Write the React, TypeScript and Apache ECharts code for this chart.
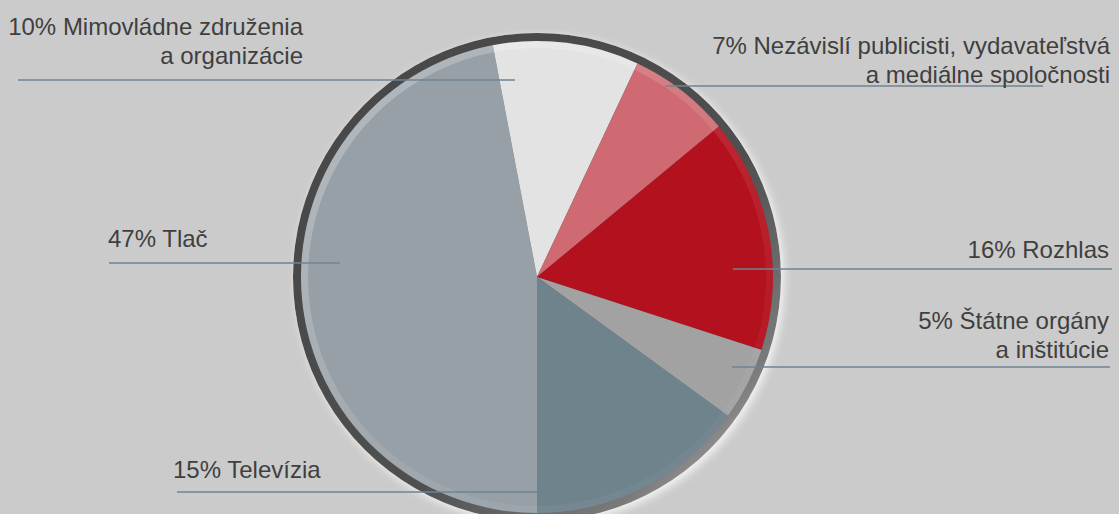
import React, { useEffect, useRef } from "react";
import * as echarts from "echarts";

// Data
const categories = [
  "Tlač",
  "Mimovládne združenia\na organizácie",
  "Nezávislí publicisti, vydavateľstvá\na mediálne spoločnosti",
  "Rozhlas",
  "Štátne orgány\na inštitúcie",
  "Televízia",
];
const values = [47, 10, 7, 16, 5, 15];
const sliceColors = ["#97a0a7", "#e3e3e3", "#cf6a72", "#b3111d", "#a2a2a2", "#6f838d"];

// Label placement (layout only)
const labelPlacement = [
  { x: 108, y: 252.5, align: "left", lx1: 340, lx2: 109, ly: 263 },
  { x: 303, y: 69.5, align: "right", lx1: 515, lx2: 18, ly: 80 },
  { x: 1110, y: 88.5, align: "right", lx1: 665, lx2: 1043, ly: 86 },
  { x: 1109, y: 263.5, align: "right", lx1: 733, lx2: 1112, ly: 269 },
  { x: 1109, y: 363.5, align: "right", lx1: 732, lx2: 1110, ly: 367 },
  { x: 173, y: 483.5, align: "left", lx1: 537, lx2: 177, ly: 492 },
];

const CENTER = [537, 277];

export default function App() {
  const ref = useRef<HTMLDivElement>(null);
  useEffect(() => {
    if (!ref.current) return;
    const chart = echarts.init(ref.current, undefined, { renderer: "svg" });
    const data = categories.map((name, i) => ({
      name,
      value: values[i],
      itemStyle: { color: sliceColors[i] },
    }));
    const labelData = categories.map((name, i) => ({
      name,
      value: values[i],
      itemStyle: { color: "rgba(0,0,0,0)" },
    }));
    chart.setOption({
      animation: false,
      backgroundColor: "#cbcbcb",
      series: [
        {
          type: "pie",
          z: 1,
          silent: true,
          center: CENTER,
          radius: [0, 244],
          label: { show: false },
          labelLine: { show: false },
          data: [
            {
              value: 1,
              itemStyle: {
                color: new echarts.graphic.LinearGradient(0, 0, 1, 1, [
                  { offset: 0, color: "#454545" },
                  { offset: 0.6, color: "#505050" },
                  { offset: 0.82, color: "#7a7a7a" },
                  { offset: 1, color: "#d6d6d6" },
                ]),
                shadowColor: "rgba(255,255,255,0.8)",
                shadowBlur: 8,
                shadowOffsetX: 3,
                shadowOffsetY: 3,
              },
            },
          ],
        },
        {
          type: "pie",
          z: 2,
          silent: true,
          center: CENTER,
          radius: [0, 236],
          startAngle: -90,
          clockwise: true,
          data,
          itemStyle: { borderWidth: 0 },
          label: { show: false },
          labelLine: { show: false },
        },
        {
          type: "pie",
          z: 3,
          silent: true,
          center: CENTER,
          radius: [229, 236],
          label: { show: false },
          labelLine: { show: false },
          data: [
            {
              value: 1,
              itemStyle: {
                color: new echarts.graphic.LinearGradient(0, 0, 1, 1, [
                  { offset: 0, color: "rgba(255,255,255,0.3)" },
                  { offset: 0.5, color: "rgba(255,255,255,0.1)" },
                  { offset: 1, color: "rgba(255,255,255,0)" },
                ]),
              },
            },
          ],
        },
        {
          type: "pie",
          z: 5,
          silent: true,
          center: CENTER,
          radius: [0, 236],
          startAngle: -90,
          clockwise: true,
          avoidLabelOverlap: false,
          data: labelData,
          label: {
            show: true,
            position: "outside",
            formatter: (p: any) => `${p.value}% ${p.name}`,
            color: "#3f3f3f",
            fontFamily: "'Liberation Sans', Arial, Helvetica, sans-serif",
            fontSize: 24,
            lineHeight: 29,
          },
          labelLine: {
            show: true,
            smooth: false,
            length: 10,
            length2: 10,
            lineStyle: { color: "#6e8592", width: 1.5 },
          },
          labelLayout: (params: any) => {
            const p = labelPlacement[params.dataIndex];
            return {
              x: p.x,
              y: p.y,
              align: p.align,
              verticalAlign: "bottom",
              labelLinePoints: [
                [p.lx1, p.ly],
                [p.lx1, p.ly],
                [p.lx2, p.ly],
              ],
            };
          },
        },
      ],
    });
    return () => chart.dispose();
  }, []);
  return (
    <div
      ref={ref}
      style={{ position: "fixed", left: 0, top: 0, width: 1119, height: 514 }}
    />
  );
}
